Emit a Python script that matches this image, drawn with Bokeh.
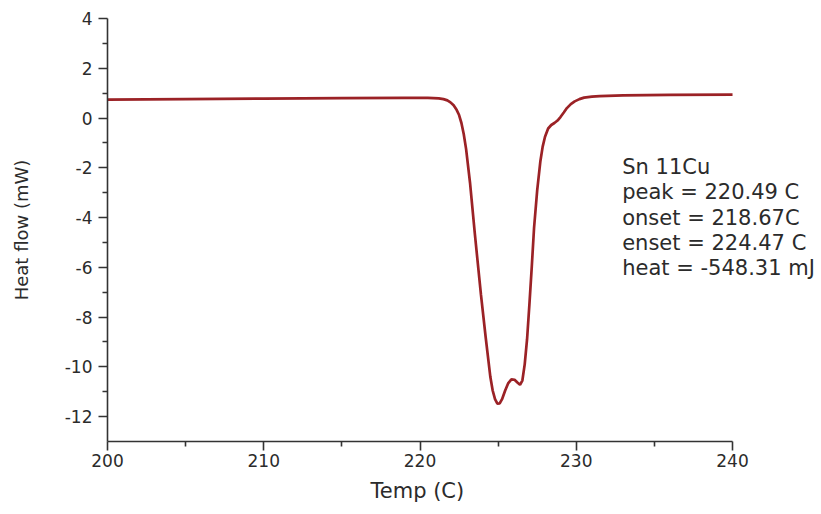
from bokeh.plotting import figure
from bokeh.models import Range1d, FixedTicker, LabelSet, ColumnDataSource, Title
from bokeh.core.properties import value
from bokeh.embed import file_html
from bokeh.resources import INLINE

# DSC curve
temp = [200.0, 205.0, 210.0, 215.0, 219.0, 220.5, 221.2, 221.5, 221.75, 221.95, 222.15,
        222.35, 222.5, 222.65, 222.8, 222.95, 223.2, 223.5, 223.9, 224.2, 224.5, 224.65,
        224.8, 224.95, 225.1, 225.25, 225.45, 225.65, 225.85, 226.05, 226.25, 226.4,
        226.55, 226.7, 226.85, 227.0, 227.15, 227.3, 227.5, 227.7, 227.85, 228.0, 228.2,
        228.4, 228.6, 228.8, 229.0, 229.2, 229.4, 229.65, 229.9, 230.2, 230.5, 231.0,
        231.5, 233.0, 236.0, 240.0]
heat_flow = [0.74, 0.76, 0.78, 0.80, 0.81, 0.81, 0.79, 0.76, 0.71, 0.63, 0.51,
             0.32, 0.12, -0.2, -0.65, -1.25, -2.6, -4.6, -7.1, -8.8, -10.4, -10.95,
             -11.3, -11.48, -11.47, -11.3, -10.95, -10.65, -10.5, -10.52, -10.64, -10.72,
             -10.55, -9.9, -8.9, -7.5, -6.0, -4.4, -2.9, -1.75, -1.15, -0.75, -0.42,
             -0.28, -0.2, -0.1, 0.05, 0.22, 0.4, 0.56, 0.67, 0.76, 0.82, 0.86,
             0.88, 0.91, 0.93, 0.94]

x_ticks = [200, 210, 220, 230, 240]
y_ticks = [-12, -10, -8, -6, -4, -2, 0, 2, 4]

note_lines = ["Sn 11Cu", "peak = 220.49 C", "onset = 218.67C",
              "enset = 224.47 C", "heat = -548.31 mJ"]
x_title = "Temp (C)"
y_title = "Heat flow (mW)"

FONT = "DejaVu Sans"
TXT = "#2b2b2b"

# the frame runs a little past 240 so that the note block is not clipped;
# the x axis itself stops at 240 through its bounds
p = figure(width=821, height=509, output_backend="svg", toolbar_location=None,
           x_range=Range1d(200, 245.31), y_range=Range1d(-13, 4),
           min_border_left=107, min_border_right=6, min_border_top=18,
           min_border_bottom=0)
p.outline_line_color = None
p.grid.grid_line_color = None
p.background_fill_color = "white"

p.line(temp, heat_flow, line_color="#9b2226", line_width=2.7)

x0 = 232.94
y0 = -2.26
dy = -1.01
src = ColumnDataSource(dict(x=[x0] * len(note_lines),
                            y=[y0 + i * dy for i in range(len(note_lines))],
                            t=note_lines))
p.add_layout(LabelSet(x="x", y="y", text="t", source=src,
                      text_font=value(FONT), text_font_size="21px",
                      text_color=TXT, text_baseline="alphabetic", text_align="left"))

for ax, ticks in ((p.xaxis[0], x_ticks), (p.yaxis[0], y_ticks)):
    ax.ticker = FixedTicker(ticks=ticks,
                            minor_ticks=[t + (ticks[1] - ticks[0]) / 2 for t in ticks[:-1]])
    ax.major_label_overrides = {t: str(t) for t in ticks}
    ax.axis_line_color = "#333333"
    ax.axis_line_width = 1.6
    ax.major_tick_line_color = "#333333"
    ax.minor_tick_line_color = "#333333"
    ax.major_tick_line_width = 1.6
    ax.minor_tick_line_width = 1.6
    ax.major_tick_in = 0
    ax.major_tick_out = 9
    ax.minor_tick_in = 0
    ax.minor_tick_out = 5
    ax.major_label_text_font = FONT
    ax.major_label_text_font_size = "17px"
    ax.major_label_text_color = TXT
    ax.axis_label_text_font = FONT
    ax.axis_label_text_font_style = "normal"
    ax.axis_label_text_color = TXT

p.xaxis[0].bounds = (x_ticks[0], x_ticks[-1])
p.xaxis[0].major_label_standoff = 3
p.yaxis[0].axis_label = y_title
p.yaxis[0].axis_label_text_font_size = "18px"
p.yaxis[0].major_label_standoff = 6
p.yaxis[0].axis_label_standoff = 30

# x axis title, centred under the 200-240 axis (not under the wider frame)
p.add_layout(Title(text=x_title, align="left", offset=263, standoff=14,
                   text_font=FONT, text_font_size="21px", text_font_style="normal",
                   text_color=TXT), "below")

open("out.html", "w").write(file_html(p, INLINE))
